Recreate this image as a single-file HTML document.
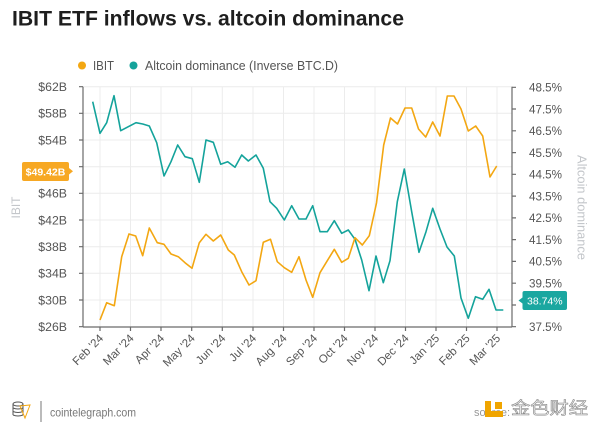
<!DOCTYPE html>
<html><head><meta charset="utf-8"><style>
html,body{margin:0;padding:0;background:#fff;}
svg{display:block;font-family:"Liberation Sans","Noto Sans CJK SC",sans-serif;}
</style></head><body>
<svg width="600" height="434" viewBox="0 0 600 434" xmlns="http://www.w3.org/2000/svg">
<rect width="600" height="434" fill="#fff"/>
<text x="12" y="25.5" font-size="21" font-weight="bold" fill="#1e1e1e" textLength="392" lengthAdjust="spacingAndGlyphs">IBIT ETF inflows vs. altcoin dominance</text>
<!-- legend -->
<circle cx="82" cy="65.5" r="4" fill="#f3a712"/>
<text x="93" y="70" font-size="12.5" fill="#555" textLength="21" lengthAdjust="spacingAndGlyphs">IBIT</text>
<circle cx="133.5" cy="65.5" r="4" fill="#14a39b"/>
<text x="145" y="70" font-size="12.5" fill="#555" textLength="193" lengthAdjust="spacingAndGlyphs">Altcoin dominance (Inverse BTC.D)</text>
<!-- grid -->
<g stroke="#ececec" stroke-width="1">
<line x1="83" y1="86.7" x2="512" y2="86.7"/>
<line x1="83" y1="113.3" x2="512" y2="113.3"/>
<line x1="83" y1="140" x2="512" y2="140"/>
<line x1="83" y1="166.7" x2="512" y2="166.7"/>
<line x1="83" y1="193.3" x2="512" y2="193.3"/>
<line x1="83" y1="220" x2="512" y2="220"/>
<line x1="83" y1="246.7" x2="512" y2="246.7"/>
<line x1="83" y1="273.3" x2="512" y2="273.3"/>
<line x1="83" y1="300" x2="512" y2="300"/>
<line x1="100" y1="87" x2="100" y2="327"/>
<line x1="130.5" y1="87" x2="130.5" y2="327"/>
<line x1="161" y1="87" x2="161" y2="327"/>
<line x1="191.7" y1="87" x2="191.7" y2="327"/>
<line x1="222.3" y1="87" x2="222.3" y2="327"/>
<line x1="253" y1="87" x2="253" y2="327"/>
<line x1="283.5" y1="87" x2="283.5" y2="327"/>
<line x1="314" y1="87" x2="314" y2="327"/>
<line x1="344.5" y1="87" x2="344.5" y2="327"/>
<line x1="375" y1="87" x2="375" y2="327"/>
<line x1="405.5" y1="87" x2="405.5" y2="327"/>
<line x1="436" y1="87" x2="436" y2="327"/>
<line x1="466.5" y1="87" x2="466.5" y2="327"/>
<line x1="497" y1="87" x2="497" y2="327"/>
</g>
<!-- axes -->
<g stroke="#6a6a6a" stroke-width="1.2" fill="none">
<line x1="83" y1="86.7" x2="83" y2="327"/>
<line x1="512" y1="86.7" x2="512" y2="327"/>
<line x1="83" y1="327" x2="512" y2="327"/>
<path d="M79 86.7H83M79 113.3H83M79 140H83M79 166.7H83M79 193.3H83M79 220H83M79 246.7H83M79 273.3H83M79 300H83M79 326.7H83"/>
<path d="M512 87.3H516M512 109H516M512 130.8H516M512 152.6H516M512 174.3H516M512 196.1H516M512 217.9H516M512 239.6H516M512 261.4H516M512 283.2H516M512 305H516M512 326.7H516"/>
<path d="M100 327V331M130.5 327V331M161 327V331M191.7 327V331M222.3 327V331M253 327V331M283.5 327V331M314 327V331M344.5 327V331M375 327V331M405.5 327V331M436 327V331M466.5 327V331M497 327V331"/>
</g>
<!-- left labels -->
<g font-size="12.3" fill="#555" text-anchor="end">
<text x="67" y="91">$62B</text>
<text x="67" y="117.6">$58B</text>
<text x="67" y="144.3">$54B</text>
<text x="67" y="197.6">$46B</text>
<text x="67" y="224.3">$42B</text>
<text x="67" y="251">$38B</text>
<text x="67" y="277.6">$34B</text>
<text x="67" y="304.3">$30B</text>
<text x="67" y="331">$26B</text>
</g>
<!-- right labels -->
<g font-size="12" fill="#555">
<text x="529" y="91.5" textLength="33" lengthAdjust="spacingAndGlyphs">48.5%</text>
<text x="529" y="113.3" textLength="33" lengthAdjust="spacingAndGlyphs">47.5%</text>
<text x="529" y="135" textLength="33" lengthAdjust="spacingAndGlyphs">46.5%</text>
<text x="529" y="156.8" textLength="33" lengthAdjust="spacingAndGlyphs">45.5%</text>
<text x="529" y="178.6" textLength="33" lengthAdjust="spacingAndGlyphs">44.5%</text>
<text x="529" y="200.4" textLength="33" lengthAdjust="spacingAndGlyphs">43.5%</text>
<text x="529" y="222.1" textLength="33" lengthAdjust="spacingAndGlyphs">42.5%</text>
<text x="529" y="243.9" textLength="33" lengthAdjust="spacingAndGlyphs">41.5%</text>
<text x="529" y="265.7" textLength="33" lengthAdjust="spacingAndGlyphs">40.5%</text>
<text x="529" y="287.4" textLength="33" lengthAdjust="spacingAndGlyphs">39.5%</text>
<text x="529" y="331" textLength="33" lengthAdjust="spacingAndGlyphs">37.5%</text>
</g>
<!-- axis titles -->
<text transform="translate(20,207.5) rotate(-90)" font-size="12" fill="#c3c6ca" text-anchor="middle">IBIT</text>
<text transform="translate(577.5,207.5) rotate(90)" font-size="12.5" fill="#c3c6ca" text-anchor="middle" textLength="105" lengthAdjust="spacingAndGlyphs">Altcoin dominance</text>
<!-- x labels -->
<g font-size="11.5" fill="#555" text-anchor="end">
<text transform="translate(104,339) rotate(-45)">Feb '24</text>
<text transform="translate(134.5,339) rotate(-45)">Mar '24</text>
<text transform="translate(165,339) rotate(-45)">Apr '24</text>
<text transform="translate(195.7,339) rotate(-45)">May '24</text>
<text transform="translate(226.3,339) rotate(-45)">Jun '24</text>
<text transform="translate(257,339) rotate(-45)">Jul '24</text>
<text transform="translate(287.5,339) rotate(-45)">Aug '24</text>
<text transform="translate(318,339) rotate(-45)">Sep '24</text>
<text transform="translate(348.5,339) rotate(-45)">Oct '24</text>
<text transform="translate(379,339) rotate(-45)">Nov '24</text>
<text transform="translate(409.5,339) rotate(-45)">Dec '24</text>
<text transform="translate(440,339) rotate(-45)">Jan '25</text>
<text transform="translate(470.5,339) rotate(-45)">Feb '25</text>
<text transform="translate(501,339) rotate(-45)">Mar '25</text>
</g>
<!-- series -->
<polyline fill="none" stroke="#14a39b" stroke-width="1.6" stroke-linejoin="round" points="92.7,101.7 100,133.3 106.7,122.7 114,95.7 120.7,130.7 128.3,126.7 136,122.7 142.7,124 149.3,126 156.7,142.7 164,176 171,161.7 177.7,145 185,156.7 192.3,158.7 199.3,182.3 206,140 213.3,142.3 220.7,164.3 227.7,161.7 235,167.3 241.7,155 248.3,161 256,155 263.3,168.3 270,201.7 276.7,208.3 284.3,220 291.7,205.7 299,219 306,219 312.7,205.7 320,231.7 327.3,231.7 334.3,220.7 341.7,233.3 348.3,230 355,239.3 361.7,260 369,290.7 376,256 383.3,282.7 390,260.7 397.3,201.7 404.3,169 411.7,211.7 419,252.3 426,231.7 432.7,208.3 440,229 447,247 454.3,256 461,298 468.3,318.3 475.5,296.7 482.7,299.3 489,289.3 496,310 503.3,310"/>
<polyline fill="none" stroke="#f3a712" stroke-width="1.6" stroke-linejoin="round" points="100,320 106.7,302.7 114.3,305.7 121.7,256.7 129,234 135.7,236 142.7,255.7 149.3,228 157.3,242.7 164,244.3 171,254 178.3,256.7 185,262.7 192,268.3 199.3,242.7 206,234.3 213.3,241 220.7,235 228.3,250 234.3,255 241.7,271.7 249,285 256,280.7 263.3,242.3 270.5,239.3 277.3,261.7 284.3,267.7 291.7,272.3 299,256.7 306,280 312.7,297.3 320,272.7 327.3,260.7 334.3,249.3 341.7,262.3 348.3,258.3 355,237.7 362.3,245 369.3,235.7 376.5,203 383.7,145 390.5,118 397.5,124 405,108 411.7,108 418.5,129 425.7,137 432.7,122 440,136 447.3,96 454,96 461,109 468.3,131 475.7,126 482.7,136 490,177 496.7,166"/>
<!-- badges -->
<path d="M24,162 H67 Q69,162 69,164 V168 L73,171.3 L69,174.5 V179 Q69,181 67,181 H24 Q22,181 22,179 V164 Q22,162 24,162 Z" fill="#f7a823"/>
<text x="45.5" y="175.3" font-size="10.5" font-weight="bold" fill="#fff" text-anchor="middle">$49.42B</text>
<path d="M524.5,291 H565 Q567,291 567,293 V308 Q567,310 565,310 H524.5 Q522.5,310 522.5,308 V303.5 L518.5,300.5 L522.5,297.5 V293 Q522.5,291 524.5,291 Z" fill="#1aa7a0"/>
<text x="544.8" y="304.5" font-size="10.5" fill="#fff" text-anchor="middle">38.74%</text>
<!-- footer -->
<g fill="none" stroke="#555" stroke-width="1">
<ellipse cx="18" cy="404" rx="5" ry="2"/>
<path d="M13 404V415M23 404V415M13 408Q18 410 23 408M13 411.5Q18 413.5 23 411.5M13 415Q18 417 23 415"/>
</g>
<path d="M20 406L30 405L25 418Z" fill="none" stroke="#f3a712" stroke-width="1"/>
<line x1="41" y1="401" x2="41" y2="422" stroke="#777" stroke-width="1"/>
<text x="50" y="416.5" font-size="12" fill="#777" textLength="86" lengthAdjust="spacingAndGlyphs">cointelegraph.com</text>
<text x="474" y="416" font-size="11" fill="#999">source:</text>
<path d="M485 401H491V411H503V417H485Z" fill="#f0a500"/>
<rect x="495" y="402" width="7" height="7" fill="#f0a500"/>
<text x="511" y="414" font-size="17" fill="#f4f4f4" stroke="#8a8a8a" stroke-width="0.6" textLength="77" lengthAdjust="spacingAndGlyphs">金色财经</text>
</svg>
</body></html>
